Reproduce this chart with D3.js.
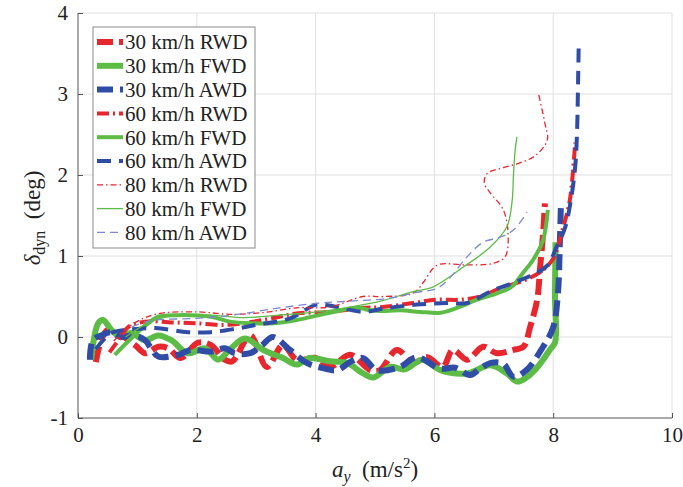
<!DOCTYPE html>
<html><head><meta charset="utf-8">
<script src="https://cdn.jsdelivr.net/npm/d3@7"></script>
<style>body{margin:0;background:#fff}svg{display:block}text{font-family:"Liberation Serif","DejaVu Serif",serif}</style>
</head><body>
<script>
const xTicks=[0,2,4,6,8,10];
const yTicks=[-1,0,1,2,3,4];
const seriesNames=["30 km/h RWD","30 km/h FWD","30 km/h AWD","60 km/h RWD","60 km/h FWD","60 km/h AWD","80 km/h RWD","80 km/h FWD","80 km/h AWD"];
const rwd30=[[0.3,-0.31],[0.39,-0.04],[0.5,0.09],[0.67,0.05],[0.96,-0.1],[1.13,-0.2],[1.35,-0.12],[1.52,-0.14],[1.73,-0.26],[2.02,-0.07],[2.24,-0.1],[2.47,-0.28],[2.6,-0.3],[2.9,0.02],[3.18,-0.37],[3.45,-0.1],[3.68,-0.28],[4.02,-0.26],[4.24,-0.37],[4.58,-0.22],[4.92,-0.41],[5.08,-0.41],[5.37,-0.16],[5.64,-0.32],[5.88,-0.25],[6.14,-0.37],[6.31,-0.16],[6.55,-0.28],[6.82,-0.12],[7.05,-0.2],[7.33,-0.16],[7.5,-0.12],[7.61,0.12],[7.73,0.46],[7.78,0.86],[7.83,1.28],[7.86,1.65]];
const fwd30=[[0.22,-0.28],[0.34,0.17],[0.42,0.21],[0.56,0.09],[0.72,0.0],[0.89,0.05],[1.13,-0.04],[1.35,0.02],[1.57,-0.04],[1.85,-0.2],[2.14,-0.14],[2.36,-0.28],[2.56,-0.15],[2.81,-0.02],[3.12,-0.16],[3.45,-0.26],[3.68,-0.34],[3.9,-0.26],[4.24,-0.3],[4.53,-0.32],[4.8,-0.45],[4.97,-0.5],[5.25,-0.37],[5.5,-0.4],[5.8,-0.28],[6.1,-0.41],[6.55,-0.45],[6.94,-0.35],[7.22,-0.45],[7.39,-0.55],[7.55,-0.5],[7.7,-0.4],[7.83,-0.28],[7.95,-0.15],[8.03,-0.07],[8.03,0.5],[8.04,1.17]];
const awd30=[[0.2,-0.28],[0.25,-0.04],[0.39,0.02],[0.56,0.06],[0.72,0.0],[0.95,0.02],[1.13,-0.04],[1.23,-0.14],[1.35,-0.24],[1.68,-0.22],[1.9,-0.16],[2.24,-0.18],[2.47,-0.14],[2.64,-0.2],[2.9,-0.2],[3.1,-0.1],[3.28,0.0],[3.57,-0.16],[3.85,-0.32],[4.1,-0.38],[4.36,-0.41],[4.6,-0.3],[4.8,-0.26],[5.03,-0.41],[5.42,-0.37],[5.7,-0.25],[6.1,-0.39],[6.35,-0.38],[6.6,-0.47],[6.77,-0.39],[6.95,-0.32],[7.16,-0.33],[7.33,-0.49],[7.56,-0.4],[7.83,-0.12],[8.0,0.12],[8.08,0.54],[8.11,1.11],[8.13,1.65]];
const rwd60=[[0.53,-0.19],[0.7,-0.02],[0.84,0.12],[1.13,0.19],[1.57,0.18],[1.97,0.17],[2.52,0.15],[3.12,0.21],[3.68,0.29],[4.24,0.31],[4.8,0.36],[5.13,0.37],[5.64,0.42],[6.04,0.46],[6.43,0.46],[6.77,0.5],[7.1,0.6],[7.44,0.68],[7.78,0.8],[8.0,0.97],[8.17,1.36],[8.28,1.69],[8.37,2.4]];
const fwd60=[[0.62,-0.22],[0.85,-0.05],[1.1,0.12],[1.35,0.25],[1.68,0.27],[2.24,0.25],[2.56,0.19],[2.9,0.17],[3.3,0.17],[3.68,0.21],[4.24,0.3],[4.7,0.36],[4.92,0.33],[5.1,0.32],[5.42,0.33],[5.76,0.31],[6.1,0.3],[6.38,0.36],[6.72,0.46],[7.05,0.54],[7.3,0.62],[7.5,0.8],[7.66,0.95],[7.83,1.2],[7.91,1.57]];
const awd60=[[0.3,-0.15],[0.56,0.05],[0.84,0.09],[1.3,0.11],[1.85,0.06],[2.24,0.06],[2.64,0.1],[3.0,0.15],[3.57,0.23],[4.02,0.4],[4.36,0.37],[4.8,0.31],[5.13,0.35],[5.7,0.4],[6.21,0.42],[6.55,0.42],[6.94,0.56],[7.33,0.67],[7.6,0.75],[7.9,0.88],[8.05,1.1],[8.2,1.35],[8.3,1.7],[8.37,2.1],[8.4,2.5],[8.42,3.2],[8.43,3.63]];
const rwd80=[[0.6,-0.05],[0.9,0.15],[1.3,0.28],[2.0,0.31],[2.56,0.28],[3.1,0.3],[3.68,0.36],[4.24,0.37],[4.8,0.5],[5.13,0.5],[5.64,0.54],[5.81,0.67],[5.98,0.85],[6.1,0.9],[6.55,0.89],[6.99,0.91],[7.19,0.99],[7.24,1.28],[7.16,1.57],[6.94,1.78],[6.84,1.9],[6.89,2.02],[7.16,2.09],[7.44,2.15],[7.7,2.24],[7.9,2.43],[7.86,2.64],[7.75,3.01]];
const fwd80=[[0.8,0.0],[1.2,0.18],[1.6,0.26],[2.2,0.27],[2.8,0.24],[3.4,0.27],[4.24,0.33],[4.8,0.4],[5.13,0.45],[5.64,0.56],[5.98,0.62],[6.48,0.86],[6.94,1.11],[7.22,1.36],[7.31,1.69],[7.33,1.98],[7.36,2.31],[7.39,2.47]];
const awd80=[[0.9,0.12],[1.2,0.2],[2.0,0.23],[2.6,0.27],[3.4,0.36],[4.07,0.42],[4.53,0.44],[5.25,0.48],[5.7,0.55],[6.04,0.6],[6.26,0.73],[6.55,0.99],[6.82,1.17],[7.1,1.23],[7.33,1.32],[7.56,1.54]];
const seriesData=[rwd30,fwd30,awd30,rwd60,fwd60,awd60,rwd80,fwd80,awd80];

const RED="#e8262d",GREEN="#5cbc45",BLUE="#2f4ca6",LBLUE="#7f88d2";
const styles=[
 {c:RED,w:6,d:"16,6"},
 {c:GREEN,w:6,d:null},
 {c:BLUE,w:6,d:"16,7"},
 {c:RED,w:4,d:"12,4,2,4"},
 {c:GREEN,w:4,d:null},
 {c:BLUE,w:4,d:"14,8"},
 {c:RED,w:1.3,d:"6,3,1.5,3"},
 {c:GREEN,w:1.3,d:null},
 {c:LBLUE,w:1.3,d:"8,5"}
];

const W=683,H=487;
const L=78,R=672,T=13,B=418;
const x=d3.scaleLinear().domain([0,10]).range([L,R]);
const y=d3.scaleLinear().domain([-1,4]).range([B,T]);
const svg=d3.select("body").append("svg").attr("width",W).attr("height",H);

// grid
svg.append("g").selectAll("line").data(xTicks.slice(1)).join("line")
 .attr("x1",d=>x(d)).attr("x2",d=>x(d)).attr("y1",T).attr("y2",B)
 .attr("stroke","#e0e0e0").attr("stroke-width",1);
svg.append("g").selectAll("line").data(yTicks.slice(1)).join("line")
 .attr("x1",L).attr("x2",R).attr("y1",d=>y(d)).attr("y2",d=>y(d))
 .attr("stroke","#e0e0e0").attr("stroke-width",1);

// axes
const xAxis=svg.append("g").attr("transform",`translate(0,${B})`)
 .call(d3.axisBottom(x).tickValues(xTicks).tickSize(-5).tickPadding(9).tickFormat(d=>String(d)));
const yAxis=svg.append("g").attr("transform",`translate(${L},0)`)
 .call(d3.axisLeft(y).tickValues(yTicks).tickSize(-5).tickPadding(10).tickFormat(d=>String(d)));
[xAxis,yAxis].forEach(g=>{
 g.attr("font-family",null);
 g.select(".domain").attr("stroke","#555");
 g.selectAll(".tick line").attr("stroke","#555");
 g.selectAll("text").attr("font-size",21).attr("fill","#222");
});
xAxis.select(".domain").attr("d",`M${L},0H${R}`);
yAxis.select(".domain").attr("d",`M0,${B}V${T}`);

// curves
svg.append("clipPath").attr("id","clip").append("rect").attr("x",L).attr("y",T-4).attr("width",R-L).attr("height",B-T+4);
const line=d3.line().x(d=>x(d[0])).y(d=>y(d[1])).curve(d3.curveCatmullRom.alpha(0.5));
const gc=svg.append("g").attr("clip-path","url(#clip)");
seriesData.forEach((s,i)=>{
 const st=styles[i];
 gc.append("path").attr("d",line(s)).attr("fill","none").attr("stroke",st.c)
  .attr("stroke-width",st.w).attr("stroke-dasharray",st.d)
  .attr("stroke-linejoin","round");
});

// legend
const lg=svg.append("g");
lg.append("rect").attr("x",93).attr("y",27).attr("width",162).attr("height",221)
 .attr("fill","#fff").attr("stroke","#8a8a8a").attr("stroke-width",1);
seriesNames.forEach((n,i)=>{
 const st=styles[i];
 const yy=42+i*23.8;
 lg.append("line").attr("x1",97).attr("x2",123).attr("y1",yy).attr("y2",yy)
  .attr("stroke",st.c).attr("stroke-width",st.w).attr("stroke-dasharray",st.d);
 lg.append("text").attr("x",125).attr("y",yy).attr("dy","0.35em")
  .attr("font-size",21).attr("fill","#222").text(n);
});

// axis labels
const xl=svg.append("text").attr("x",375).attr("y",477).attr("text-anchor","middle")
 .attr("font-size",23).attr("fill","#222");
xl.append("tspan").attr("font-style","italic").text("a");
xl.append("tspan").attr("font-style","italic").attr("font-size",16).attr("dy",5).text("y");
xl.append("tspan").attr("dy",-5).text("\u2002(m/s");
xl.append("tspan").attr("font-size",15).attr("dy",-9).text("2");
xl.append("tspan").attr("dy",9).text(")");

const yl=svg.append("text").attr("transform","translate(40,218) rotate(-90)").attr("text-anchor","middle")
 .attr("font-size",23).attr("fill","#222");
yl.append("tspan").attr("font-style","italic").text("\u03b4");
yl.append("tspan").attr("font-size",16).attr("dy",5).text("dyn");
yl.append("tspan").attr("dy",-5).text("\u2002(deg)");
</script>
</body></html>
